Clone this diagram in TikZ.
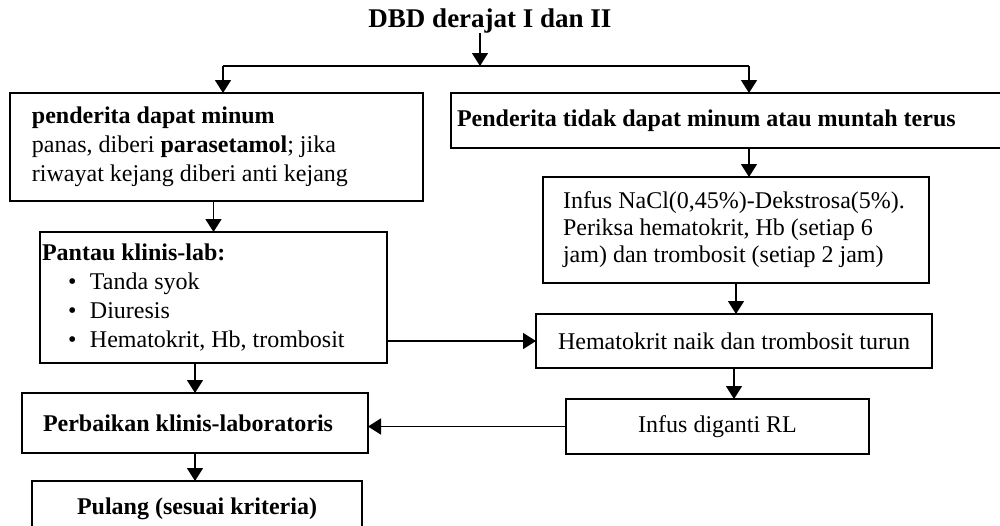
\documentclass[tikz,border=0pt]{standalone}
\usepackage{fontspec}
\setmainfont{Liberation Serif}
\usetikzlibrary{arrows.meta}

\begin{document}
\begin{tikzpicture}[x=0.5pt,y=-0.5pt,
    every node/.style={font=\fontsize{12}{14.5}\selectfont, outer sep=0pt},
    box/.style={draw, line width=0.8pt, minimum height=27.5pt, inner ysep=0pt},
    arr/.style={line width=0.8pt, -{Triangle[length=6.5pt,width=8pt]}}]
      \useasboundingbox (0,0) rectangle (1000,525);
      \clip (0,0) rectangle (1000,525);
      \node[font=\fontsize{13.5}{16}\selectfont\bfseries, inner sep=0pt] (title) at (490,21) {DBD derajat I dan II};
      \coordinate (split) at (480,66);
      \coordinate (lt) at (223,66);
      \coordinate (rt) at (749,66);
      \node[box, minimum height=54pt, text width=184.5pt, inner xsep=11pt, align=flush left] (minum) at (216.5,147)
        {\textbf{penderita dapat minum}\\panas, diberi \textbf{parasetamol}; jika\\riwayat kejang diberi anti kejang};
      \node[box, text width=273.5pt, inner xsep=3pt, align=flush left] (tidak) at (730.5,120.5)
        {\textbf{Penderita tidak dapat minum atau muntah terus}};
      \node[box, minimum height=53pt, text width=173pt, inner xsep=10pt, align=flush left, font=\fontsize{12}{13.5}\selectfont] (infus) at (736,230)
        {Infus NaCl(0,45\%)-Dekstrosa(5\%).\\Periksa hematokrit, Hb (setiap 6\\jam) dan trombosit (setiap 2 jam)};
      \node[box, minimum width=198pt, minimum height=27pt] (naik) at (734,341) {Hematokrit naik dan trombosit turun};
      \node[box, minimum width=151.5pt] (rl) at (717.5,426.5) {Infus diganti RL};
      \node[box, minimum height=65.5pt, text width=171.5pt, inner xsep=1pt, align=flush left] (pantau) at (213.5,297.5)
        {\textbf{Pantau klinis-lab:}\\
         \hspace*{13pt}\makebox[11pt][l]{\textbullet}Tanda syok\\
         \hspace*{13pt}\makebox[11pt][l]{\textbullet}Diuresis\\
         \hspace*{13pt}\makebox[11pt][l]{\textbullet}Hematokrit, Hb, trombosit};
      \node[box, minimum height=30pt, text width=152pt, inner xsep=10.5pt, align=flush left] (baik) at (195,423)
        {\textbf{Perbaikan klinis-laboratoris}};
      \node[box, minimum width=165pt] (pulang) at (197,508.5) {\textbf{Pulang (sesuai kriteria)}};
      \draw[arr] (title.south -| split) -- (split);
      \draw[line width=0.8pt] (lt) -- (rt);
      \draw[arr] (lt) -- (lt |- minum.north);
      \draw[arr] (rt) -- (rt |- tidak.north);
      \draw[arr] (tidak.south -| rt) -- (infus.north -| rt);
      \draw[arr] (infus.south) -- (infus.south |- naik.north);
      \draw[arr] (naik.south) -- (naik.south |- rl.north);
      \draw[arr] (pantau.north |- minum.south) -- (pantau.north);
      \draw[arr] (baik.north |- pantau.south) -- (baik.north);
      \draw[arr] (baik.south) -- (baik.south |- pulang.north);
      \draw[arr] (pantau.east |- naik.west) -- (naik.west);
      \draw[arr] (rl.west) -- (rl.west -| baik.east);
    \end{tikzpicture}
\end{document}
